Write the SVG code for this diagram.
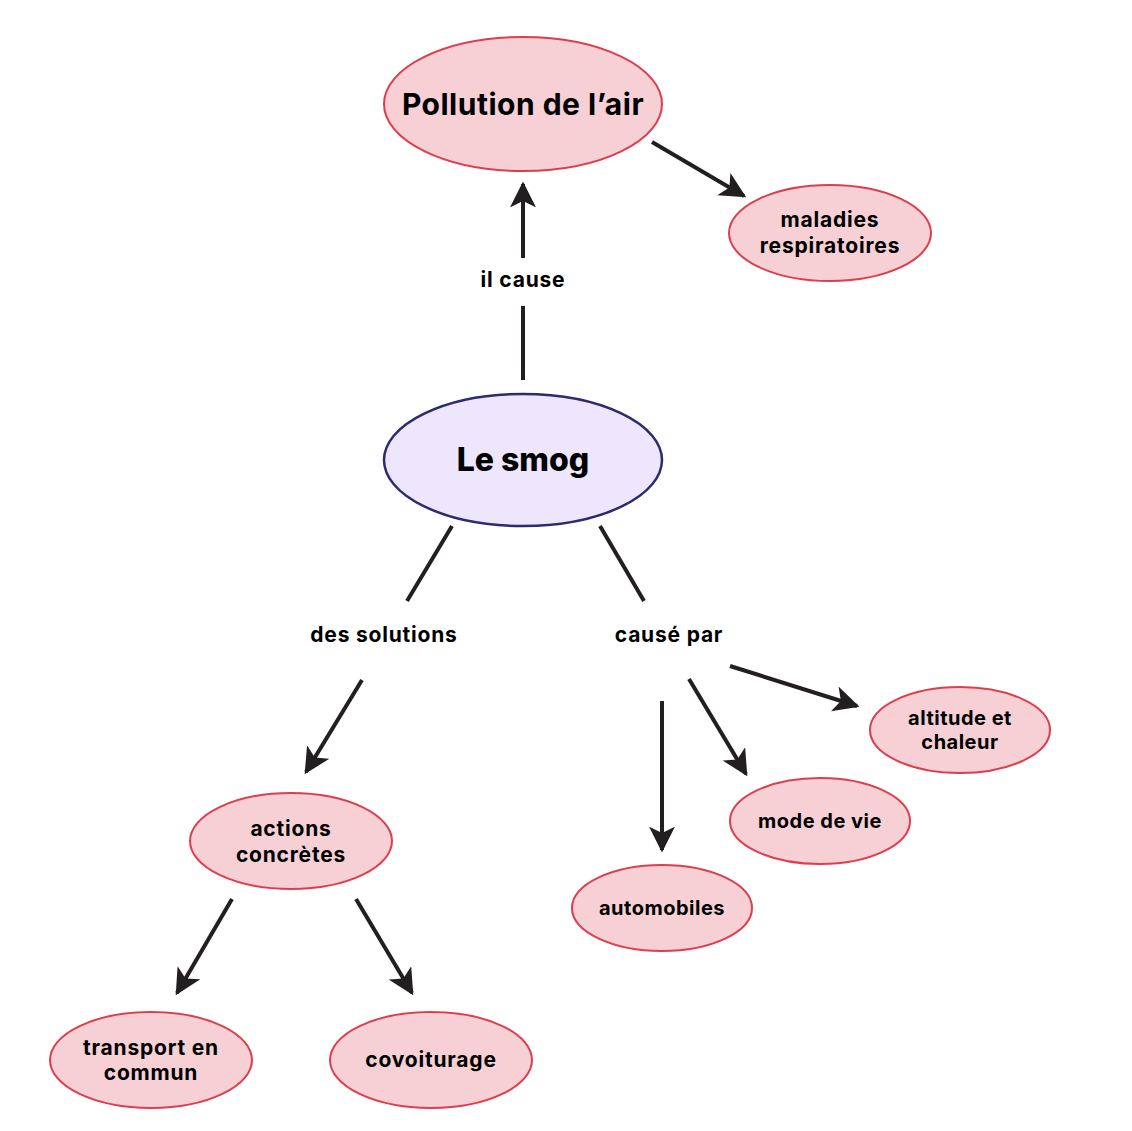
<svg xmlns="http://www.w3.org/2000/svg" width="1132" height="1131" viewBox="0 0 1132 1131">
<style>
.n{fill:#f6d0d4;stroke:#dd3e4e;stroke-width:2}
.c{fill:#ede6fd;stroke:#2e2a6e;stroke-width:2.5}
text{font-family:Inter,Roboto,"Liberation Sans",sans-serif;font-weight:700;fill:#000;text-anchor:middle}
.t{font-size:21px;letter-spacing:0.8px}
.s{font-size:20px;letter-spacing:0.5px}
.big{font-size:30px;letter-spacing:0.5px}
.l{stroke:#231f20;stroke-width:4;fill:none}
</style>
<defs>
<marker id="ah" viewBox="0 0 10 10" refX="9" refY="5" markerWidth="6.5" markerHeight="6.5" markerUnits="strokeWidth" orient="auto">
<path d="M0,0 L10,5 L0,10 L2.5,5 Z" fill="#231f20"/>
</marker>
</defs>
<rect width="1132" height="1131" fill="#fff"/>
<g id="connectors">
<line class="l" x1="523" y1="380" x2="523" y2="306"/>
<line class="l" x1="523" y1="258" x2="523" y2="184" marker-end="url(#ah)"/>
<line class="l" x1="652" y1="142" x2="744" y2="196" marker-end="url(#ah)"/>
<line class="l" x1="452" y1="526" x2="407" y2="601"/>
<line class="l" x1="600" y1="526" x2="644" y2="601"/>
<line class="l" x1="362" y1="680" x2="306" y2="772" marker-end="url(#ah)"/>
<line class="l" x1="232" y1="899" x2="177" y2="993" marker-end="url(#ah)"/>
<line class="l" x1="356" y1="899" x2="412" y2="993" marker-end="url(#ah)"/>
<line class="l" x1="662" y1="701" x2="662" y2="850" marker-end="url(#ah)"/>
<line class="l" x1="689" y1="679" x2="746" y2="774" marker-end="url(#ah)"/>
<line class="l" x1="730" y1="666" x2="857" y2="706" marker-end="url(#ah)"/>
<text class="t" x="523" y="287">il cause</text>
<text class="t" x="384" y="642">des solutions</text>
<text class="t" x="669" y="642">causé par</text>
</g>
<g id="pollution">
<ellipse class="n" cx="523" cy="104" rx="139" ry="67"/>
<text class="big" x="523" y="115">Pollution de l’air</text>
</g>
<g id="maladies">
<ellipse class="n" cx="830" cy="233" rx="101" ry="48"/>
<text class="t" x="830" y="227">maladies</text>
<text class="t" x="830" y="253">respiratoires</text>
</g>
<g id="smog">
<ellipse class="c" cx="523" cy="460" rx="139" ry="66"/>
<text x="523" y="471" style="font-size:32px;font-weight:800">Le smog</text>
</g>
<g id="actions">
<ellipse class="n" cx="291" cy="841" rx="101" ry="48"/>
<text class="t" x="291" y="836">actions</text>
<text class="t" x="291" y="862">concrètes</text>
</g>
<g id="transport">
<ellipse class="n" cx="151" cy="1060" rx="101" ry="48"/>
<text class="t" x="151" y="1055">transport en</text>
<text class="t" x="151" y="1080">commun</text>
</g>
<g id="covoiturage">
<ellipse class="n" cx="431" cy="1060" rx="101" ry="48"/>
<text class="t" x="431" y="1067">covoiturage</text>
</g>
<g id="automobiles">
<ellipse class="n" cx="662" cy="908" rx="90" ry="43"/>
<text class="s" x="662" y="915">automobiles</text>
</g>
<g id="modedevie">
<ellipse class="n" cx="820" cy="821" rx="90" ry="43"/>
<text class="s" x="820" y="828">mode de vie</text>
</g>
<g id="altitude">
<ellipse class="n" cx="960" cy="730" rx="90" ry="43"/>
<text class="s" x="960" y="725">altitude et</text>
<text class="s" x="960" y="749">chaleur</text>
</g>
</svg>
